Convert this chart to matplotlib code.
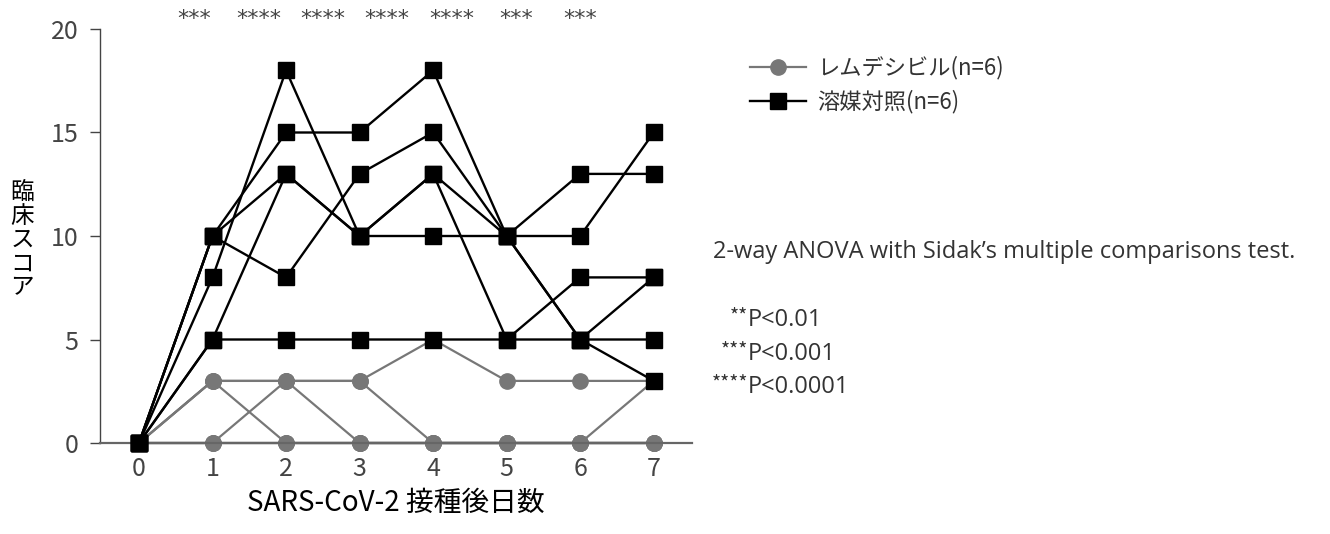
import numpy as np
import matplotlib.pyplot as plt
from matplotlib.transforms import blended_transform_factory

plt.rcParams['font.family'] = ['Noto Sans CJK JP', 'DejaVu Sans']

days = [0, 1, 2, 3, 4, 5, 6, 7]

# clinical score per animal, remdesivir group (n=6)
remdesivir = [
    [0, 3, 3, 3, 5, 3, 3, 3],
    [0, 3, 3, 3, 0, 0, 0, 3],
    [0, 0, 3, 0, 0, 0, 0, 0],
    [0, 3, 0, 0, 0, 0, 0, 0],
    [0, 0, 0, 0, 0, 0, 0, 0],
    [0, 0, 0, 0, 0, 0, 0, 0],
]

# vehicle control group (n=6)
vehicle = [
    [0, 10, 15, 15, 18, 10, 13, 13],
    [0, 10, 13, 10, 13, 10, 5, 8],
    [0, 10, 8, 13, 15, 10, 10, 15],
    [0, 8, 18, 10, 10, 10, 5, 5],
    [0, 5, 13, 10, 13, 5, 8, 8],
    [0, 5, 5, 5, 5, 5, 5, 3],
]

stars = ['***', '****', '****', '****', '****', '***', '***']
yticks = [0, 5, 10, 15, 20]
label_rem = 'レムデシビル(n=6)'
label_veh = '溶媒対照(n=6)'
pvals = [('**', 'P<0.01'), ('***', 'P<0.001'), ('****', 'P<0.0001')]

W, H = 1330, 534
fig = plt.figure(figsize=(W / 100, H / 100), dpi=100)
ax = fig.add_axes([100 / W, 1 - 443 / H, 592 / W, 414 / H])

grey = '#777777'
for i, row in enumerate(remdesivir):
    ax.plot(days, row, color=grey, lw=1.6, marker='o', ms=11, mec=grey,
            clip_on=False, zorder=2, label=label_rem if i == 0 else None)
for i, row in enumerate(vehicle):
    ax.plot(days, row, color='black', lw=1.7, marker='s', ms=12, mec='black',
            clip_on=False, zorder=3, label=label_veh if i == 0 else None)

ax.set_xlim(-0.53, 7.52)
ax.set_ylim(0, 20)
ax.set_xticks(days)
ax.set_yticks(yticks)
for s in ['top', 'right']:
    ax.spines[s].set_visible(False)
ax.spines['left'].set_color('#444444')
ax.spines['bottom'].set_color('#666666')
ax.spines['left'].set_linewidth(1.0)
ax.spines['bottom'].set_linewidth(1.6)
ax.tick_params(axis='y', direction='out', length=7.5, width=1.0, color='#444444',
               labelsize=18, labelcolor='#444444', pad=8)
ax.tick_params(axis='x', direction='out', length=3.5, width=1.0, color='#666666',
               labelsize=18, labelcolor='#444444', pad=6)

# significance marks above the plot (evenly spaced, as in the original)
trans = blended_transform_factory(ax.transData, fig.transFigure)
for x, s in zip(np.linspace(0.75, 6.0, len(stars)), stars):
    ax.text(x, 1 - 25 / H, s, transform=trans, ha='center', va='baseline',
            fontsize=16, color='#444444', family='DejaVu Sans')

fig.text(22 / W, 1 - 240 / H, '\n'.join('臨床スコア'), ha='center', va='center',
         fontsize=17, linespacing=1.05)
fig.text(396 / W, 1 - 503 / H, 'SARS-CoV-2 接種後日数', ha='center', va='center',
         fontsize=20)

fig.legend(loc='upper left', bbox_to_anchor=(750 / W, 1 - 56 / H), frameon=False,
           fontsize=16, handlelength=2.5, handletextpad=0.5, labelspacing=0.45,
           labelcolor='#333333', borderaxespad=0, borderpad=0)

latin = ['Open Sans', 'Noto Sans CJK JP']
fig.text(713 / W, 1 - 252 / H, '2-way ANOVA with Sidak’s multiple comparisons test.',
         ha='left', va='center', fontsize=17, color='#333333', family=latin)
for y, (st, p) in zip([320, 354, 387], pvals):
    fig.text(748 / W, 1 - (y - 3) / H, st, ha='right', va='center', fontsize=14,
             color='#333333')
    fig.text(748 / W, 1 - y / H, p, ha='left', va='center', fontsize=17,
             color='#333333', family=latin)

fig.savefig('out.png', dpi=100)
